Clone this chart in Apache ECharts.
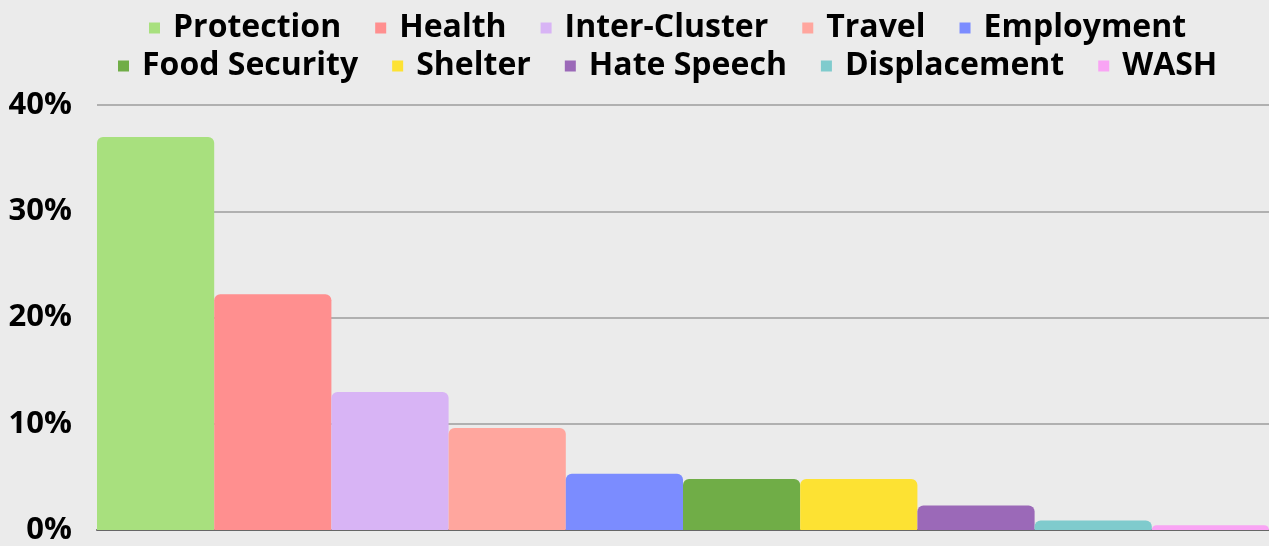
<!DOCTYPE html>
<html>
<head>
<meta charset="utf-8">
<script src="https://cdn.jsdelivr.net/npm/echarts@6/dist/echarts.min.js"></script>
<style>
  html, body { margin: 0; padding: 0; background: #ebebeb; }
  #chart { width: 1269px; height: 546px; }
</style>
</head>
<body>
<div id="chart"></div>
<script>
  var names = ['Protection', 'Health', 'Inter-Cluster', 'Travel', 'Employment',
               'Food Security', 'Shelter', 'Hate Speech', 'Displacement', 'WASH'];
  var shares = [37.0, 22.2, 13.0, 9.6, 5.3, 4.8, 4.8, 2.3, 0.9, 0.45];
  var colors = ['#a8e07e', '#ff8f8f', '#d8b4f5', '#ffa69e', '#7b8cff',
                '#70ad47', '#fde233', '#9b69b8', '#7fcbcd', '#f9a4f4'];
  var yTicks = [0, 10, 20, 30, 40];

  var chart = echarts.init(document.getElementById('chart'));
  var font = '"Open Sans", sans-serif';
  var legendText = { fontFamily: font, fontSize: 32, fontWeight: 'bold', color: '#000', padding: [0, 0, 0, 8] };

  var series = names.map(function (n, i) {
    return {
      name: n,
      type: 'bar',
      data: [shares[i]],
      barGap: '0%',
      barCategoryGap: '0%',
      itemStyle: { color: colors[i], borderRadius: [6, 6, 0, 0] }
    };
  });

  chart.setOption({
    backgroundColor: '#ebebeb',
    animation: false,
    legend: [{
      data: names.slice(0, 5),
      top: 12, left: 149, padding: 0,
      itemWidth: 11, itemHeight: 11, itemGap: 34,
      icon: 'rect',
      textStyle: legendText
    }, {
      data: names.slice(5),
      top: 50, left: 118, padding: 0,
      itemWidth: 11, itemHeight: 11, itemGap: 34,
      icon: 'rect',
      textStyle: legendText
    }],
    grid: { left: 97, right: 0, top: 105, bottom: 16 },
    xAxis: {
      type: 'category',
      data: [''],
      axisTick: { show: false },
      axisLabel: { show: false },
      axisLine: { lineStyle: { color: '#666', width: 2 } }
    },
    yAxis: {
      type: 'value',
      min: yTicks[0], max: yTicks[yTicks.length - 1], interval: 10,
      axisLabel: {
        formatter: '{value}%', margin: 25,
        fontFamily: font, fontSize: 31, fontWeight: 'bold', color: '#000'
      },
      splitLine: { lineStyle: { color: '#b0b0b0', width: 2 } }
    },
    series: series
  });
</script>
</body>
</html>
